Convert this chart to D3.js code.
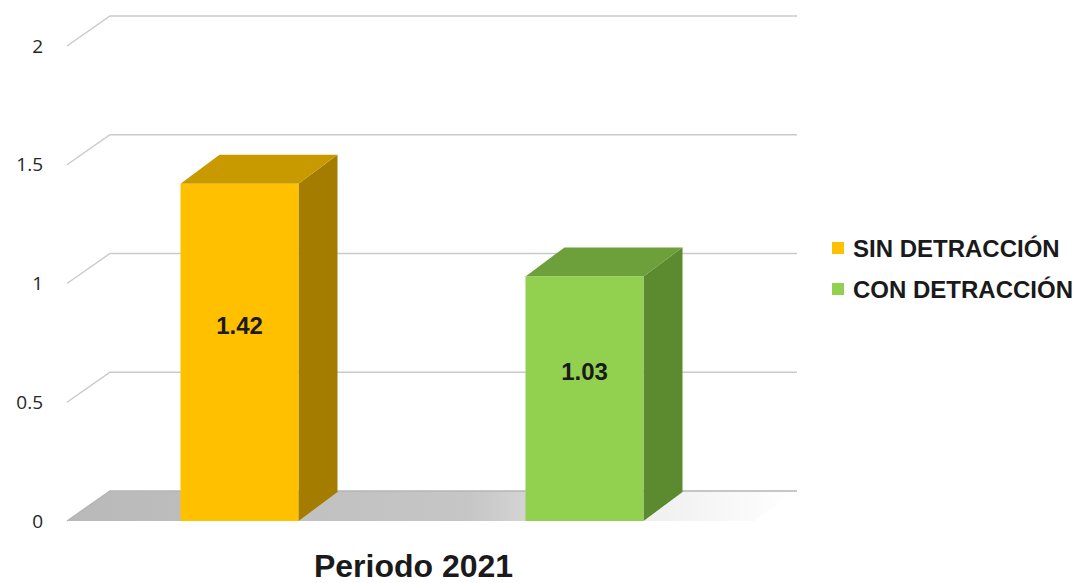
<!DOCTYPE html>
<html>
<head>
<meta charset="utf-8">
<script src="https://cdn.jsdelivr.net/npm/d3@7"></script>
<style>
  body { margin: 0; background: #fff; }
  svg { display: block; }
</style>
</head>
<body>
<svg id="chart" width="1088" height="583"></svg>
<script>
// data
var category = "Periodo 2021";
var series = ["SIN DETRACCIÓN", "CON DETRACCIÓN"];
var values = [1.42, 1.03];
var yTicks = [0, 0.5, 1, 1.5, 2];

// colours: front, top, side
var fronts = ["#ffc000", "#92d050"];
var tops = ["#c99a00", "#6d9f3a"];
var sides = ["#a47c00", "#5b8a2f"];

var svg = d3.select("#chart");

var left = 67, right = 754;
var depthX = 43, depthY = -30;   // wall depth
var barDX = 39, barDY = -29;     // bar depth

var y = d3.scaleLinear().domain([0, 2]).range([521, 46]);
var x = d3.scaleBand().domain(series).range([left, right + 3])
  .paddingInner(0.658).paddingOuter(0.329);

// floor gradient
var defs = svg.append("defs");
var grad = defs.append("linearGradient").attr("id", "floorGrad")
  .attr("x1", "0%").attr("x2", "100%").attr("y1", "0%").attr("y2", "0%");
grad.append("stop").attr("offset", "0%").attr("stop-color", "#b9b9b9");
grad.append("stop").attr("offset", "55%").attr("stop-color", "#c6c6c6");
grad.append("stop").attr("offset", "78%").attr("stop-color", "#eeeeee");
grad.append("stop").attr("offset", "100%").attr("stop-color", "#ffffff");

svg.append("path")
  .attr("d", "M" + left + "," + y(0) + "L" + (left + depthX) + "," + (y(0) + depthY) +
    "L" + (right + depthX) + "," + (y(0) + depthY) + "L" + right + "," + y(0) + "Z")
  .attr("fill", "url(#floorGrad)");

// gridlines (slanted side wall edge + back wall)
var grid = svg.append("g");
grid.selectAll("path").data(yTicks).enter().append("path")
  .attr("d", function(d) {
    return "M" + left + "," + y(d) + "L" + (left + depthX) + "," + (y(d) + depthY) +
      "L" + (right + depthX) + "," + (y(d) + depthY);
  })
  .attr("fill", "none")
  .attr("stroke", function(d) { return d === 0 ? "#b5b5b5" : "#cacaca"; })
  .attr("stroke-width", 1.5);

// y axis labels
svg.append("g").selectAll("text").data(yTicks).enter().append("text")
  .attr("x", 43)
  .attr("y", function(d) { return y(d); })
  .attr("dy", "0.35em")
  .attr("text-anchor", "end")
  .attr("font-family", "Open Sans, sans-serif")
  .attr("font-size", 19)
  .attr("fill", "#262626")
  .text(function(d) { return d; });

// bars
var bars = svg.append("g").selectAll("g").data(values).enter().append("g");

bars.append("path") // side
  .attr("d", function(d, i) {
    var x1 = x(series[i]) + x.bandwidth();
    return "M" + x1 + "," + y(d) + "L" + (x1 + barDX) + "," + (y(d) + barDY) +
      "L" + (x1 + barDX) + "," + (y(0) + barDY) + "L" + x1 + "," + y(0) + "Z";
  })
  .attr("fill", function(d, i) { return sides[i]; });

bars.append("path") // top
  .attr("d", function(d, i) {
    var x0 = x(series[i]), x1 = x0 + x.bandwidth();
    return "M" + x0 + "," + y(d) + "L" + (x0 + barDX) + "," + (y(d) + barDY) +
      "L" + (x1 + barDX) + "," + (y(d) + barDY) + "L" + x1 + "," + y(d) + "Z";
  })
  .attr("fill", function(d, i) { return tops[i]; });

bars.append("rect") // front
  .attr("x", function(d, i) { return x(series[i]); })
  .attr("y", function(d) { return y(d); })
  .attr("width", x.bandwidth())
  .attr("height", function(d) { return y(0) - y(d); })
  .attr("fill", function(d, i) { return fronts[i]; });

bars.append("text")
  .attr("x", function(d, i) { return x(series[i]) + x.bandwidth() / 2; })
  .attr("y", function(d) { return y(d / 2) - 27; })
  .attr("dy", "0.35em")
  .attr("text-anchor", "middle")
  .attr("font-family", "Liberation Sans, Arial, sans-serif")
  .attr("font-weight", "bold")
  .attr("font-size", 24)
  .attr("fill", "#1a1a1a")
  .text(function(d) { return d.toFixed(2); });

// category label
svg.append("text")
  .attr("x", (left + right) / 2 + 3)
  .attr("y", 577)
  .attr("text-anchor", "middle")
  .attr("font-family", "Liberation Sans, Arial, sans-serif")
  .attr("font-weight", "bold")
  .attr("font-size", 32)
  .attr("fill", "#1a1a1a")
  .text(category);

// legend
var legend = svg.append("g").selectAll("g").data(series).enter().append("g")
  .attr("transform", function(d, i) { return "translate(832," + (242 + i * 41) + ")"; });
legend.append("rect")
  .attr("width", 12).attr("height", 12)
  .attr("fill", function(d, i) { return fronts[i]; });
legend.append("text")
  .attr("x", 21).attr("y", 6).attr("dy", "0.36em")
  .attr("font-family", "Liberation Sans, Arial, sans-serif")
  .attr("font-weight", "bold")
  .attr("font-size", 24)
  .attr("fill", "#1a1a1a")
  .text(function(d) { return d; });
</script>
</body>
</html>
